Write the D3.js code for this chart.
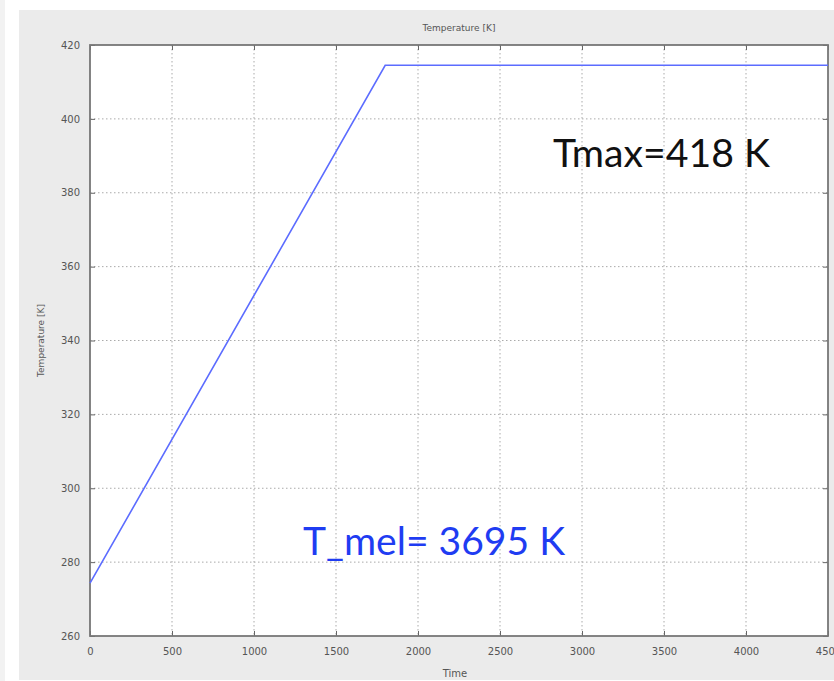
<!DOCTYPE html>
<html>
<head>
<meta charset="utf-8">
<script src="https://cdn.jsdelivr.net/npm/d3@7"></script>
<style>
  body { margin: 0; background: #fff; }
  svg { display: block; }
  .tick text { font-family: "DejaVu Sans", sans-serif; font-size: 10px; fill: #555; }
</style>
</head>
<body>
<svg id="chart" width="834" height="681"></svg>
<script>
// series: time vs temperature
var times = [0, 1800, 4500];
var temps = [274.3, 414.5, 414.5];
var xTicks = [0, 500, 1000, 1500, 2000, 2500, 3000, 3500, 4000, 4500];
var yTicks = [260, 280, 300, 320, 340, 360, 380, 400, 420];
var notes = ["Tmax=418 K", "T_mel= 3695 K"];

var width = 834, height = 681;
var plotLeft = 90, plotRight = 828, plotTop = 45, plotBottom = 636;

var svg = d3.select("#chart");

// grey figure panel
svg.append("rect").attr("x", 0).attr("y", 0).attr("width", 5).attr("height", height).attr("fill", "#f2f2f2");
svg.append("rect").attr("x", 19).attr("y", 10).attr("width", width - 19).attr("height", 670).attr("fill", "#ebebeb");

var x = d3.scaleLinear().domain([0, 4500]).range([plotLeft, plotRight]);
var y = d3.scaleLinear().domain([260, 420]).range([plotBottom, plotTop]);

svg.append("rect")
  .attr("x", plotLeft).attr("y", plotTop)
  .attr("width", plotRight - plotLeft).attr("height", plotBottom - plotTop)
  .attr("fill", "#fff");

// grid
svg.append("g").selectAll("line").data(xTicks.slice(1, -1)).enter().append("line")
  .attr("x1", function(d) { return x(d); }).attr("x2", function(d) { return x(d); })
  .attr("y1", plotTop).attr("y2", plotBottom)
  .attr("stroke", "#aaa").attr("stroke-dasharray", "1.5,2.5");
svg.append("g").selectAll("line").data(yTicks.slice(1, -1)).enter().append("line")
  .attr("y1", function(d) { return y(d); }).attr("y2", function(d) { return y(d); })
  .attr("x1", plotLeft).attr("x2", plotRight)
  .attr("stroke", "#aaa").attr("stroke-dasharray", "1.5,2.5");

// axes
svg.append("g").attr("transform", "translate(0," + plotBottom + ")")
  .call(d3.axisBottom(x).tickValues(xTicks).tickSize(-5).tickPadding(12).tickFormat(d3.format("d")));
svg.append("g").attr("transform", "translate(" + plotLeft + ",0)")
  .call(d3.axisLeft(y).tickValues(yTicks).tickSize(-5).tickPadding(10).tickFormat(d3.format("d")));
svg.append("g").attr("transform", "translate(0," + plotTop + ")")
  .call(d3.axisTop(x).tickValues(xTicks).tickSize(-5).tickFormat(""));
svg.append("g").attr("transform", "translate(" + plotRight + ",0)")
  .call(d3.axisRight(y).tickValues(yTicks).tickSize(-5).tickFormat(""));
svg.selectAll(".domain").remove();
svg.selectAll(".tick line").attr("stroke", "#666");

// box
svg.append("rect")
  .attr("x", plotLeft).attr("y", plotTop)
  .attr("width", plotRight - plotLeft).attr("height", plotBottom - plotTop)
  .attr("fill", "none").attr("stroke", "#777").attr("stroke-width", 1.8);

// line
var pts = times.map(function(t, i) { return [t, temps[i]]; });
svg.append("path")
  .datum(pts)
  .attr("d", d3.line().x(function(d) { return x(d[0]); }).y(function(d) { return y(d[1]); }))
  .attr("fill", "none")
  .attr("stroke", "#5c6cff")
  .attr("stroke-width", 1.6);

// titles
svg.append("text")
  .attr("x", (plotLeft + plotRight) / 2).attr("y", 31)
  .attr("text-anchor", "middle")
  .attr("font-family", "DejaVu Sans, sans-serif").attr("font-size", 9).attr("fill", "#555")
  .text("Temperature [K]");
svg.append("text")
  .attr("transform", "translate(44," + (plotTop + plotBottom) / 2 + ") rotate(-90)")
  .attr("text-anchor", "middle")
  .attr("font-family", "DejaVu Sans, sans-serif").attr("font-size", 9).attr("fill", "#555")
  .text("Temperature [K]");
svg.append("text")
  .attr("x", 455).attr("y", 677)
  .attr("text-anchor", "middle")
  .attr("font-family", "DejaVu Sans, sans-serif").attr("font-size", 10).attr("fill", "#555")
  .text("Time");

// annotations
svg.append("text")
  .attr("x", 553).attr("y", 167)
  .attr("font-family", "Lato, sans-serif").attr("font-size", 39).attr("fill", "#111")
  .attr("textLength", 217).attr("lengthAdjust", "spacingAndGlyphs")
  .text(notes[0]);
svg.append("text")
  .attr("x", 303).attr("y", 555)
  .attr("font-family", "Lato, sans-serif").attr("font-size", 39).attr("fill", "#1f3cf2")
  .attr("textLength", 262).attr("lengthAdjust", "spacingAndGlyphs")
  .text(notes[1]);
</script>
</body>
</html>
